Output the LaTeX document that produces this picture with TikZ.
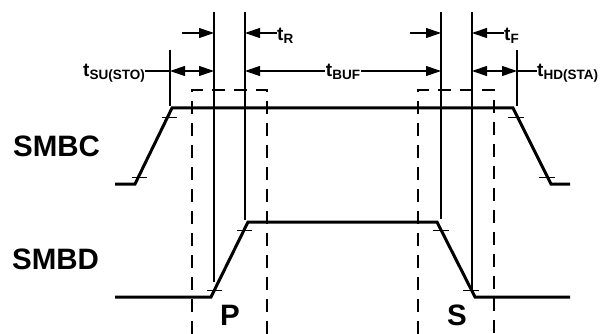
\documentclass[tikz,border=0pt]{standalone}
\usepackage{fontspec}
\setmainfont{Liberation Sans}
\usetikzlibrary{arrows.meta}
\newcommand{\tsub}[1]{{\bfseries\fontsize{19}{19}\selectfont t}\raisebox{-3pt}{\bfseries\fontsize{13.5}{14}\selectfont #1}}
\tikzset{
  sig/.style={line width=3pt, line join=miter},
  guide/.style={line width=1.2pt},
  tick/.style={line width=0.8pt},
  win/.style={line width=2pt, dash pattern=on 13pt off 9pt},
  dim/.style={line width=1.2pt, -{Triangle[length=15pt,width=10pt]}},
  ddim/.style={line width=1.2pt, {Triangle[length=15pt,width=10pt]}-{Triangle[length=15pt,width=10pt]}},
  lab/.style={inner sep=0pt, anchor=base west, font=\bfseries},
  big/.style={lab, font=\bfseries\fontsize{29.5}{30}\selectfont},
}
\begin{document}
\begin{tikzpicture}[x=1pt,y=-1pt]
\useasboundingbox (0,0) rectangle (602,334);
% coordinates
\coordinate (A0) at (214,12); \coordinate (A1) at (214,282);
\coordinate (B0) at (245,12); \coordinate (B1) at (245,220);
\coordinate (C0) at (441,12); \coordinate (C1) at (441,219);
\coordinate (D0) at (472,12); \coordinate (D1) at (472,290);
\coordinate (E0) at (170,50); \coordinate (E1) at (170,106);
\coordinate (F0) at (517,50); \coordinate (F1) at (517,106);
% dashed windows
\draw[win] (192,334) -- (192,90) -- (267,90) -- (267,334);
\draw[win] (418,334) -- (418,90) -- (494,90) -- (494,334);
% guide lines
\draw[guide] (A0) -- (A1);
\draw[guide] (B0) -- (B1);
\draw[guide] (C0) -- (C1);
\draw[guide] (D0) -- (D1);
\draw[guide] (E0) -- (E1);
\draw[guide] (F0) -- (F1);
% signals
\draw[sig] (115,184) -- (135,184) -- (172,108) -- (513,108) -- (551,184) -- (570,184);
\draw[sig] (115,297) -- (211,297) -- (248,222) -- (437,222) -- (475,297) -- (570,297);
% ticks
\draw[tick] (162,117) -- (177,117);
\draw[tick] (132,177) -- (147,177);
\draw[tick] (508,117) -- (524,117);
\draw[tick] (539,177) -- (555,177);
\draw[tick] (207,290) -- (222,290);
\draw[tick] (237,230) -- (252,230);
\draw[tick] (433,230) -- (449,230);
\draw[tick] (463,290) -- (479,290);
% labels
\node[lab] (tR) at (277,41) {\tsub{R}};
\node[lab] (tF) at (504,41) {\tsub{F}};
\node[lab] (tSU) at (83,77) {\tsub{SU(STO)}};
\node[lab] (tHD) at (537,77) {\tsub{HD(STA)}};
\node[big] (SMBC) at (13,156) {SMBC};
\node[big] (SMBD) at (12,269) {SMBD};
\node[big] (P) at (220,325) {P};
\node[big] (S) at (447,325) {S};
% dimension arrows
\coordinate (r1) at (182,33);
\draw[dim] (r1) -- (A0 |- r1);
\draw[dim] (tR.west |- r1) -- (B0 |- r1);
\coordinate (f1) at (410,33);
\draw[dim] (f1) -- (C0 |- f1);
\draw[dim] (tF.west |- f1) -- (D0 |- f1);
\coordinate (m) at (0,71);
\draw[guide] (tSU.east |- m) -- (E0 |- m);
\draw[ddim] (E0 |- m) -- (A0 |- m);
\draw[ddim] (B0 |- m) -- node[fill=white, inner sep=1pt, yshift=-1pt] {\tsub{BUF}} (C0 |- m);
\draw[ddim] (D0 |- m) -- (F0 |- m);
\draw[guide] (F0 |- m) -- (tHD.west |- m);
\end{tikzpicture}
\end{document}
